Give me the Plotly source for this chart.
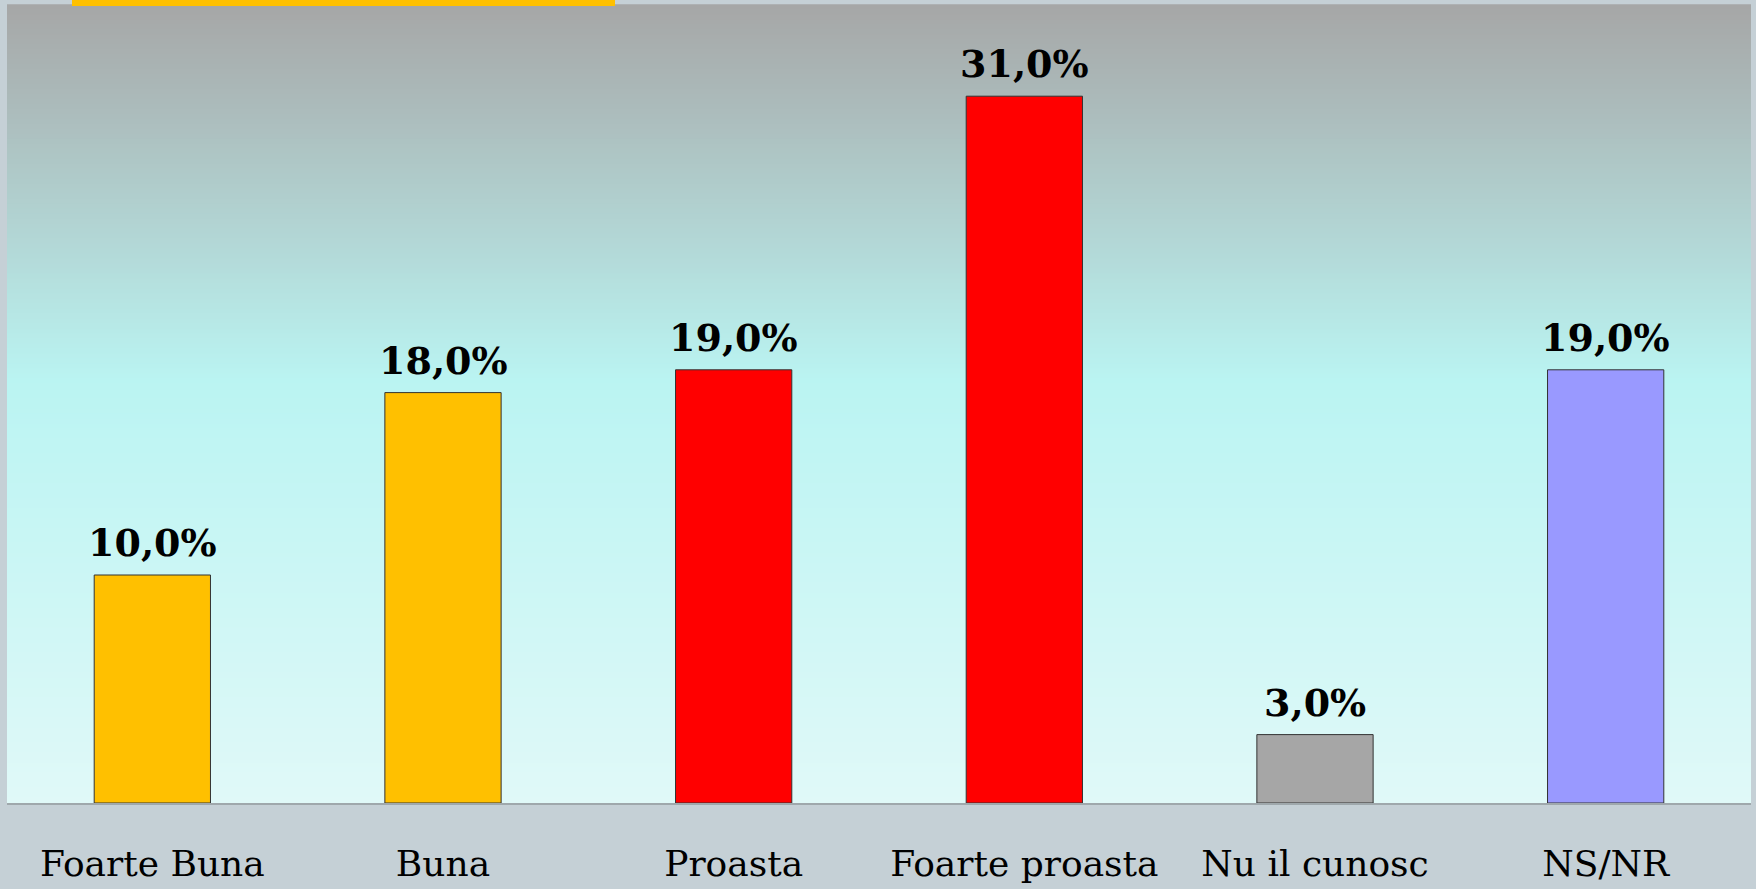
import plotly.graph_objects as go

categories = ["Foarte Buna", "Buna", "Proasta", "Foarte proasta", "Nu il cunosc", "NS/NR"]
values = [10.0, 18.0, 19.0, 31.0, 3.0, 19.0]
labels = ["10,0%", "18,0%", "19,0%", "31,0%", "3,0%", "19,0%"]
bar_colors = ["#FFC000", "#FFC000", "#FF0000", "#FF0000", "#A6A6A6", "#9999FF"]

W, H = 1756, 889
ML, MR, MT, MB = 7, 5, 5, 81
PW, PH = W - ML - MR, H - MT - MB

def lerp(c1, c2, t):
    return tuple(round(a + (b - a) * t) for a, b in zip(c1, c2))

top_c = (166, 166, 166)
mid_c = (186, 244, 242)
bot_c = (224, 249, 248)
mid_pos = 0.47

shapes = []
N = 160
for i in range(N):
    f0 = i / N
    f1 = (i + 1) / N
    fm = (f0 + f1) / 2  # fraction from top
    if fm < mid_pos:
        c = lerp(top_c, mid_c, fm / mid_pos)
    else:
        c = lerp(mid_c, bot_c, (fm - mid_pos) / (1 - mid_pos))
    shapes.append(dict(type="rect", xref="paper", yref="paper",
                       x0=0, x1=1, y0=1 - f1, y1=1 - f0 + 0.001,
                       fillcolor="rgb(%d,%d,%d)" % c, line=dict(width=0),
                       layer="below"))

# yellow accent strip at top
shapes.append(dict(type="rect", xref="paper", yref="paper",
                   x0=(72 - ML) / PW, x1=(615 - ML) / PW,
                   y0=1 - 1 / PH, y1=1 + MT / PH,
                   fillcolor="#FFC000", line=dict(width=0), layer="above"))

fig = go.Figure(go.Bar(
    x=categories, y=values,
    marker=dict(color=bar_colors, line=dict(color="#333333", width=1)),
    width=0.4,
    cliponaxis=False,
    hoverinfo="skip",
))

for c, v, t in zip(categories, values, labels):
    fig.add_annotation(x=c, y=v, text="<b>" + t + "</b>", showarrow=False,
                       yanchor="bottom", yshift=8,
                       font=dict(family="DejaVu Serif", size=38, color="#000000"))

fig.update_layout(
    width=W, height=H,
    margin=dict(l=ML, r=MR, t=MT, b=MB),
    paper_bgcolor="#C5D0D6",
    plot_bgcolor="rgba(0,0,0,0)",
    shapes=shapes,
    showlegend=False,
)
fig.update_xaxes(
    showgrid=False, ticks="", showline=True, linecolor="#9FA8AC", linewidth=2,
    tickfont=dict(family="DejaVu Serif", size=36, color="#000000"),
    ticklabelstandoff=28,
)
fig.update_yaxes(range=[0, 35], visible=False, showgrid=False, zeroline=False)

fig.write_html("out.html", config={"displayModeBar": False},
               post_script="document.body.style.margin='0';document.body.style.background='#C5D0D6';")
